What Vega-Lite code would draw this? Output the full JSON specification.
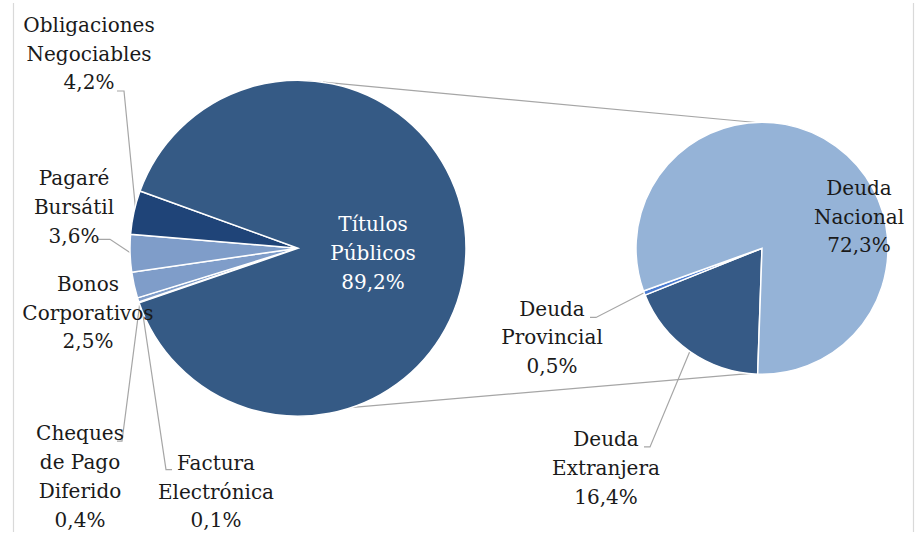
{
  "$schema": "https://vega.github.io/schema/vega-lite/v6.json",
  "width": 922,
  "height": 535,
  "padding": 0,
  "autosize": {"type": "fit", "contains": "padding"},
  "background": "white",
  "config": {"view": {"stroke": null}},
  "datasets": {
    "principal": [
      {"categoria": "Factura Electrónica", "porcentaje": 0.1, "orden": 1},
      {"categoria": "Cheques de Pago Diferido", "porcentaje": 0.4, "orden": 2},
      {"categoria": "Bonos Corporativos", "porcentaje": 2.5, "orden": 3},
      {"categoria": "Pagaré Bursátil", "porcentaje": 3.6, "orden": 4},
      {"categoria": "Obligaciones Negociables", "porcentaje": 4.2, "orden": 5},
      {"categoria": "Títulos Públicos", "porcentaje": 89.2, "orden": 6}
    ],
    "secundario": [
      {"categoria": "Deuda Extranjera", "porcentaje": 16.4, "orden": 1},
      {"categoria": "Deuda Provincial", "porcentaje": 0.5, "orden": 2},
      {"categoria": "Deuda Nacional", "porcentaje": 72.3, "orden": 3}
    ],
    "etiquetas": [
      {"texto": "Obligaciones\nNegociables\n4,2%", "lx": 89, "ly": 23, "claro": false},
      {"texto": "Pagaré\nBursátil\n3,6%", "lx": 74, "ly": 178, "claro": false},
      {"texto": "Bonos\nCorporativos\n2,5%", "lx": 88, "ly": 285, "claro": false},
      {"texto": "Cheques\nde Pago\nDiferido\n0,4%", "lx": 80, "ly": 436, "claro": false},
      {"texto": "Factura\nElectrónica\n0,1%", "lx": 216, "ly": 466, "claro": false},
      {"texto": "Títulos\nPúblicos\n89,2%", "lx": 373, "ly": 225, "claro": true},
      {"texto": "Deuda\nNacional\n72,3%", "lx": 859, "ly": 188, "claro": false},
      {"texto": "Deuda\nProvincial\n0,5%", "lx": 552, "ly": 310, "claro": false},
      {"texto": "Deuda\nExtranjera\n16,4%", "lx": 606, "ly": 442, "claro": false}
    ],
    "lineas": [
      {"id": "L1", "tipo": "guia", "k": 1, "lx": 117, "ly": 89},
      {"id": "L1", "tipo": "guia", "k": 2, "lx": 124, "ly": 89},
      {"id": "L1", "tipo": "guia", "k": 3, "lx": 136, "ly": 213},
      {"id": "L2", "tipo": "guia", "k": 1, "lx": 98, "ly": 239},
      {"id": "L2", "tipo": "guia", "k": 2, "lx": 110, "ly": 239},
      {"id": "L2", "tipo": "guia", "k": 3, "lx": 131, "ly": 253},
      {"id": "L3", "tipo": "guia", "k": 1, "lx": 140, "ly": 302},
      {"id": "L3", "tipo": "guia", "k": 2, "lx": 122, "ly": 443},
      {"id": "L3", "tipo": "guia", "k": 3, "lx": 117, "ly": 443},
      {"id": "L4", "tipo": "guia", "k": 1, "lx": 141, "ly": 302},
      {"id": "L4", "tipo": "guia", "k": 2, "lx": 166, "ly": 472},
      {"id": "L4", "tipo": "guia", "k": 3, "lx": 172, "ly": 472},
      {"id": "L5", "tipo": "guia", "k": 1, "lx": 590, "ly": 318},
      {"id": "L5", "tipo": "guia", "k": 2, "lx": 596, "ly": 318},
      {"id": "L5", "tipo": "guia", "k": 3, "lx": 646, "ly": 292},
      {"id": "L6", "tipo": "guia", "k": 1, "lx": 644, "ly": 449},
      {"id": "L6", "tipo": "guia", "k": 2, "lx": 650, "ly": 449},
      {"id": "L6", "tipo": "guia", "k": 3, "lx": 690, "ly": 352},
      {"id": "C1", "tipo": "conector", "k": 1, "lx": 323, "ly": 80},
      {"id": "C1", "tipo": "conector", "k": 2, "lx": 768, "ly": 122},
      {"id": "C2", "tipo": "conector", "k": 1, "lx": 318, "ly": 412},
      {"id": "C2", "tipo": "conector", "k": 2, "lx": 757, "ly": 374},
      {"id": "B1", "tipo": "borde", "k": 1, "lx": 13.5, "ly": 0},
      {"id": "B1", "tipo": "borde", "k": 2, "lx": 13.5, "ly": 535},
      {"id": "B2", "tipo": "borde", "k": 1, "lx": 913.5, "ly": 0},
      {"id": "B2", "tipo": "borde", "k": 2, "lx": 913.5, "ly": 535}
    ]
  },
  "resolve": {"scale": {"theta": "independent", "color": "independent"}},
  "layer": [
    {
      "data": {"name": "lineas"},
      "mark": {"type": "line", "strokeWidth": 1.2},
      "encoding": {
        "x": {"field": "lx", "type": "quantitative", "scale": {"domain": [0, 922], "nice": false, "zero": false}, "axis": null},
        "y": {"field": "ly", "type": "quantitative", "scale": {"domain": [0, 535], "nice": false, "zero": false, "reverse": true}, "axis": null},
        "detail": {"field": "id"},
        "order": {"field": "k"},
        "stroke": {"field": "tipo", "type": "nominal", "scale": {"domain": ["guia", "conector", "borde"], "range": ["#A6A6A6", "#A6A6A6", "#D9D9D9"]}, "legend": null}
      }
    },
    {
      "data": {"name": "principal"},
      "mark": {"type": "arc", "outerRadius": 168, "stroke": "white", "strokeWidth": 1.5},
      "encoding": {
        "x": {"datum": 298, "type": "quantitative"},
        "y": {"datum": 248, "type": "quantitative"},
        "theta": {"field": "porcentaje", "type": "quantitative", "stack": true, "scale": {"range": [4.381, 10.664]}},
        "order": {"field": "orden"},
        "color": {"field": "categoria", "type": "nominal", "legend": null,
          "scale": {"domain": ["Factura Electrónica", "Cheques de Pago Diferido", "Bonos Corporativos", "Pagaré Bursátil", "Obligaciones Negociables", "Títulos Públicos"],
                    "range": ["#7F9DC9", "#7F9DC9", "#7F9DC9", "#7F9DC9", "#1F4478", "#355A85"]}}
      }
    },
    {
      "data": {"name": "secundario"},
      "mark": {"type": "arc", "outerRadius": 126, "stroke": "white", "strokeWidth": 1.5},
      "encoding": {
        "x": {"datum": 762, "type": "quantitative"},
        "y": {"datum": 248, "type": "quantitative"},
        "theta": {"field": "porcentaje", "type": "quantitative", "stack": true, "scale": {"range": [3.176, 9.459]}},
        "order": {"field": "orden"},
        "color": {"field": "categoria", "type": "nominal", "legend": null,
          "scale": {"domain": ["Deuda Extranjera", "Deuda Provincial", "Deuda Nacional"],
                    "range": ["#365A86", "#4A7BD0", "#95B3D7"]}}
      }
    },
    {
      "data": {"name": "etiquetas"},
      "mark": {"type": "text", "font": "'DejaVu Serif', serif", "fontSize": 20, "lineHeight": 28.8, "lineBreak": "\n", "align": "center", "baseline": "middle"},
      "encoding": {
        "x": {"field": "lx", "type": "quantitative"},
        "y": {"field": "ly", "type": "quantitative"},
        "text": {"field": "texto"},
        "fill": {"field": "claro", "type": "nominal", "scale": {"domain": [false, true], "range": ["#1A1A1A", "#FFFFFF"]}, "legend": null}
      }
    }
  ]
}
